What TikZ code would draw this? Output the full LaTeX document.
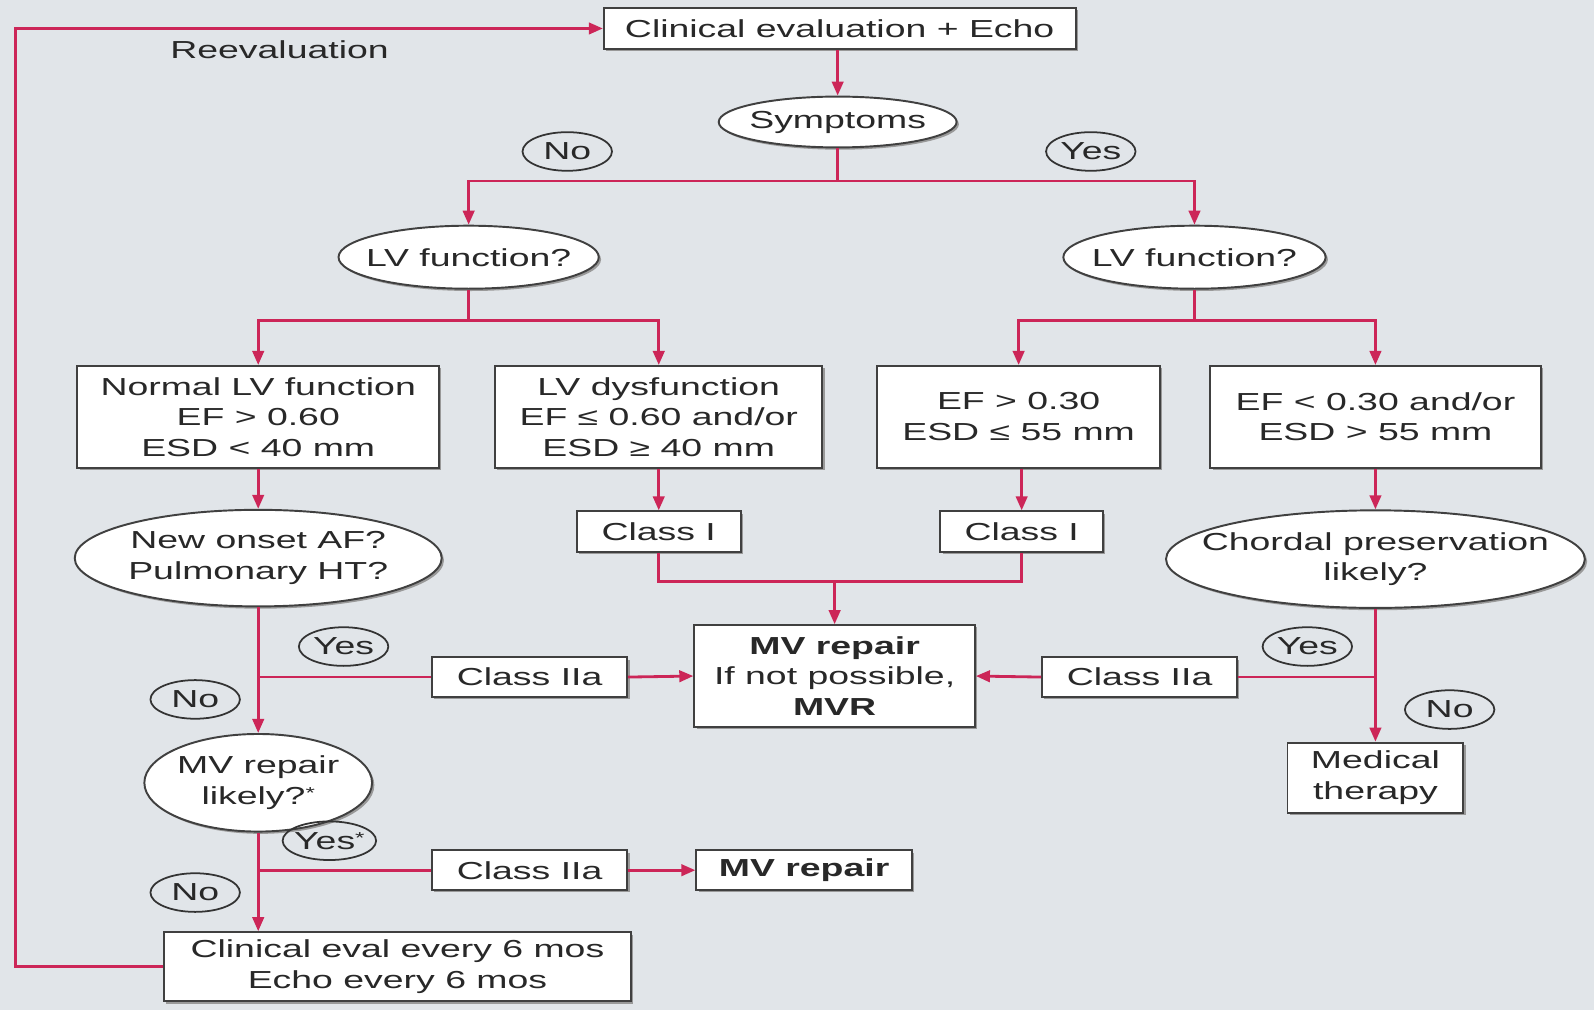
\documentclass[tikz,border=0pt]{standalone}
\usepackage{fontspec}
\setmainfont{Liberation Sans}[FakeStretch=1.52]
\usetikzlibrary{arrows.meta,shapes.geometric,shadows}
\definecolor{bg}{RGB}{225,229,233}
\definecolor{ln}{RGB}{204,38,88}
\definecolor{tx}{RGB}{40,40,40}
\def\U{0.02033cm}
\newcommand{\myast}{\raisebox{0.45ex}{\fontsize{9}{9}\selectfont *}}
\begin{document}
\begin{tikzpicture}[x=0.02033cm,y=-0.02033cm,
  font=\fontsize{14}{17.4}\selectfont, text=tx,
  shad/.style={drop shadow={shadow xshift=1.3pt, shadow yshift=-1.3pt, fill=black!40, opacity=1}},
  box/.style={draw=black!75, line width=1.1pt, fill=white, align=center, inner sep=0pt, shad},
  oval/.style={ellipse, draw=black!75, line width=1.1pt, fill=white, inner sep=0pt, shad},
  lbl/.style={align=center, inner sep=0pt},
  tag/.style={ellipse, draw=black!80, line width=1pt, inner sep=0pt, minimum width=88*\U, minimum height=38*\U},
  conn/.style={draw=ln, line width=1.6pt},
  arr/.style={conn, -{Triangle[length=8pt,width=6.5pt]}},
]
\fill[bg] (0,0) rectangle (1568,994);
\useasboundingbox (0,0) rectangle (1568,994);

% top
\node[box, minimum width=464*\U, minimum height=40*\U] (top) at (826,28) {Clinical evaluation + Echo};
\node[oval, minimum width=234*\U, minimum height=50*\U] (sym) at (824,120) {};
\node[lbl] (symT) at (sym) {Symptoms};
\node[tag] (tno1) at (558,149) {};
\node[lbl] (tno1T) at (tno1) {No};
\node[tag] (tyes1) at (1073,149) {};
\node[lbl] (tyes1T) at (tyes1) {Yes};
\node (reeval) at (275,49) {Reevaluation};

\node[oval, minimum width=256*\U, minimum height=62*\U] (lvl) at (461,253) {};
\node[lbl] (lvlT) at (lvl) {LV function?};
\node[oval, minimum width=258*\U, minimum height=62*\U] (lvr) at (1175,253) {};
\node[lbl] (lvrT) at (lvr) {LV function?};

\node[box, minimum width=356*\U, minimum height=100*\U] (nlv) at (254,410) {Normal LV function\\EF > 0.60\\ESD < 40 mm};
\node[box, minimum width=322*\U, minimum height=100*\U] (lvd) at (648,410) {LV dysfunction\\EF ≤ 0.60 and/or\\ESD ≥ 40 mm};
\node[box, minimum width=278*\U, minimum height=100*\U] (ef1) at (1002,410) {EF > 0.30\\ESD ≤ 55 mm};
\node[box, minimum width=325*\U, minimum height=100*\U] (ef2) at (1353,410) {EF < 0.30 and/or\\ESD > 55 mm};

\node[oval, minimum width=361*\U, minimum height=95*\U] (af) at (254,549) {};
\node[lbl] (afT) at (af) {New onset AF?\\Pulmonary HT?};
\node[box, minimum width=161*\U, minimum height=40*\U] (c1a) at (648,523) {Class I};
\node[box, minimum width=160*\U, minimum height=40*\U] (c1b) at (1005,523) {Class I};
\node[oval, minimum width=412*\U, minimum height=96*\U] (chord) at (1353,550) {};
\node[lbl] (chordT) at (chord) {Chordal preservation\\likely?};

\node[box, minimum width=276*\U, minimum height=100*\U] (mvr) at (821,665) {\textbf{MV repair}\\If not possible,\\\textbf{MVR}};
\node[box, minimum width=192*\U, minimum height=39*\U] (c2a) at (521,666) {Class IIa};
\node[box, minimum width=192*\U, minimum height=39*\U] (c2c) at (1121,666) {Class IIa};
\node[tag] (tyes2) at (338,636) {};
\node[lbl] (tyes2T) at (tyes2) {Yes};
\node[tag] (tno2) at (192,688) {};
\node[lbl] (tno2T) at (tno2) {No};
\node[tag] (tyes3) at (1286,636) {};
\node[lbl] (tyes3T) at (tyes3) {Yes};
\node[tag] (tno3) at (1426,698) {};
\node[lbl] (tno3T) at (tno3) {No};

\node[oval, minimum width=224*\U, minimum height=96*\U] (mvl) at (254,770) {};
\node[lbl] (mvlT) at (mvl) {MV repair\\likely?\myast};
\node[box, minimum width=173*\U, minimum height=69*\U] (med) at (1353,765) {Medical\\therapy};

\node[box, minimum width=192*\U, minimum height=39*\U] (c2b) at (521,856) {Class IIa};
\node[box, minimum width=212*\U, minimum height=39*\U] (mvrep) at (791,856) {\textbf{MV repair}};
\node[tag, minimum width=92*\U] (tyes4) at (324,827) {};
\node[lbl] (tyes4T) at (tyes4) {Yes\myast};
\node[tag] (tno4) at (192,878) {};
\node[lbl] (tno4T) at (tno4) {No};

\node[box, minimum width=459*\U, minimum height=68*\U] (ce) at (391,951) {Clinical eval every 6 mos\\Echo every 6 mos};

% junction coordinates
\coordinate (j1) at (824,178);
\coordinate (j2) at (461,315);
\coordinate (j3) at (1175,315);
\coordinate (j4) at (821,572);
\coordinate (j5) at (254,666);
\coordinate (j6) at (254,856);
\coordinate (j7) at (1353,666);
\coordinate (lt) at (15,28);

% connectors
\draw[arr] (top.south -| sym.north) -- (sym.north);
\draw[conn] (sym.south) -- (j1);
\draw[arr] (j1) -| (lvl.north);
\draw[arr] (j1) -| (lvr.north);

\draw[conn] (lvl.south) -- (j2);
\draw[arr] (j2) -| (nlv.north);
\draw[arr] (j2) -| (lvd.north);
\draw[conn] (lvr.south) -- (j3);
\draw[arr] (j3) -| (ef1.north);
\draw[arr] (j3) -| (ef2.north);

\draw[arr] (nlv) -- (af);
\draw[arr] (lvd) -- (c1a);
\draw[arr] (ef1.south -| c1b.north) -- (c1b.north);
\draw[arr] (ef2) -- (chord);

\draw[conn] (c1a.south) |- (j4) -| (c1b.south);
\draw[arr] (j4) -- (mvr.north);

\draw[arr] (af.south) -- (mvl.north);
\draw[conn] (j5) -- (c2a.west);
\draw[arr] (c2a.east) -- (mvr.west);

\draw[arr] (chord.south) -- (med.north);
\draw[conn] (j7) -- (c2c.east);
\draw[arr] (c2c.west) -- (mvr.east);

\draw[arr] (mvl.south) -- (mvl.south |- ce.north);
\draw[conn] (j6) -- (c2b.west);
\draw[arr] (c2b.east) -- (mvrep.west);

\draw[arr] (ce.west) -| (lt) -- (top.west);
\end{tikzpicture}
\end{document}
